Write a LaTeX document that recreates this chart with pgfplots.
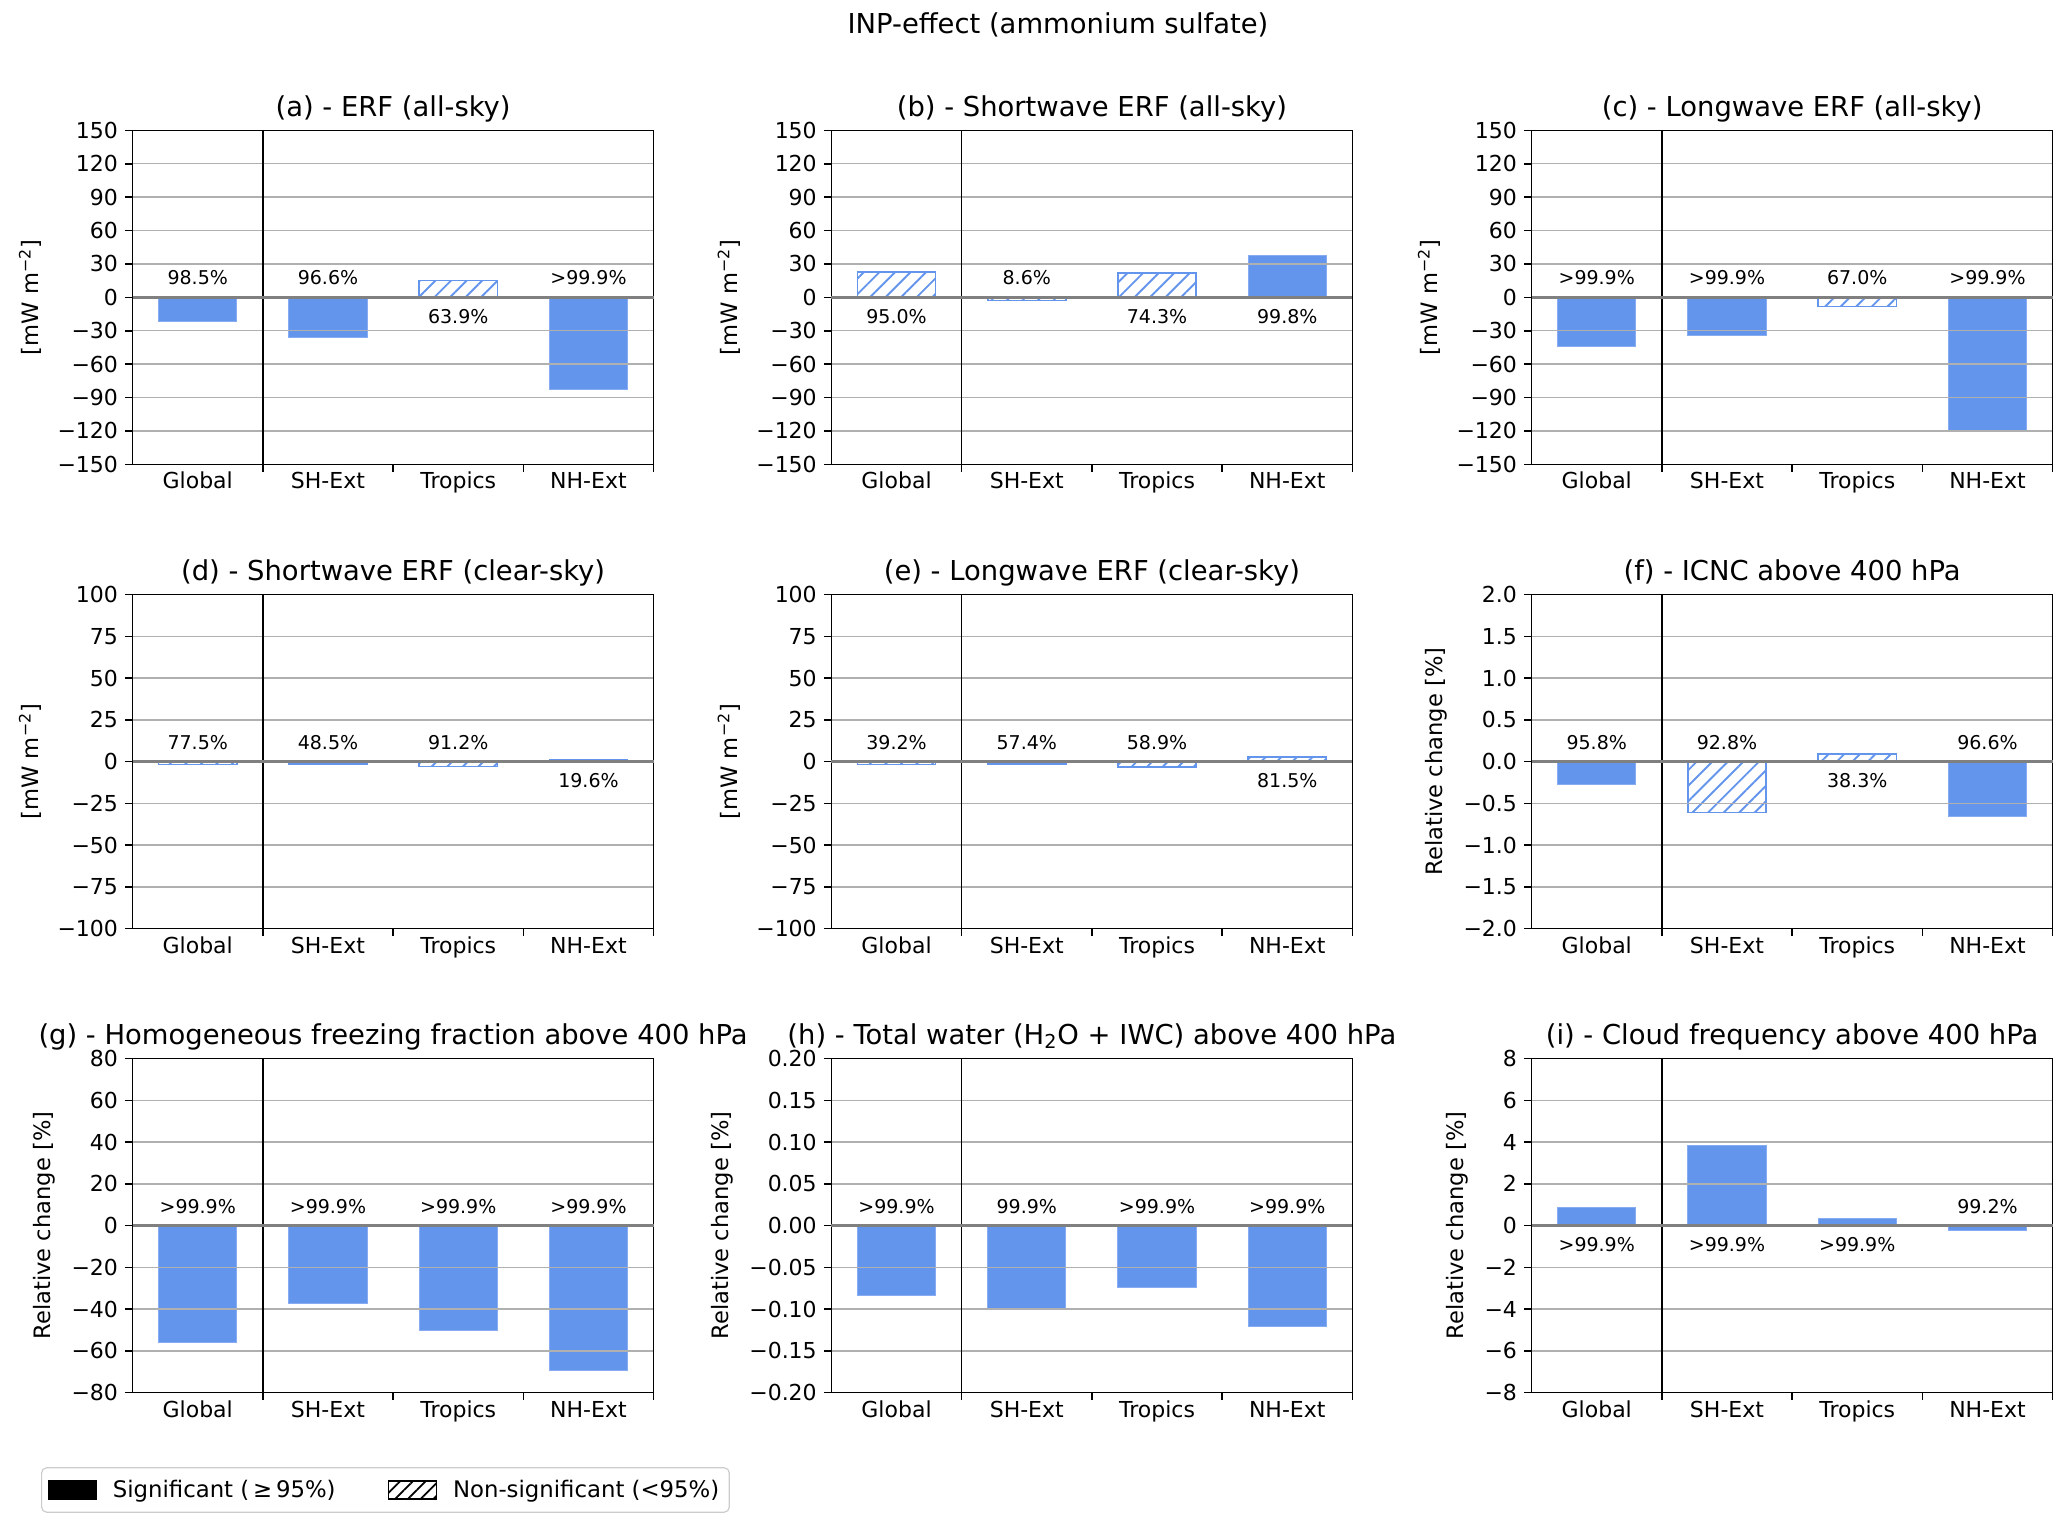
\documentclass[border=0pt]{standalone}
\usepackage{fontspec}
\setmainfont{DejaVu Sans}
\usepackage{pgfplots}
\pgfplotsset{compat=1.18}
\usetikzlibrary{patterns.meta}

\definecolor{cblue}{RGB}{100,149,237}
\definecolor{cedge}{RGB}{135,172,241}
\definecolor{gridgray}{RGB}{176,176,176}
\definecolor{zerogray}{RGB}{128,128,128}
\definecolor{legframe}{RGB}{204,204,204}

\newcommand{\titlefont}{\fontsize{13.7}{16}\selectfont}
\newcommand{\tickfont}{\fontsize{11}{13}\selectfont}
\newcommand{\labelfont}{\fontsize{11.3}{13}\selectfont}
\newcommand{\annfont}{\fontsize{9.5}{11}\selectfont}
\newcommand{\legfont}{\fontsize{11.4}{13}\selectfont}

\pgfplotsset{
  panel/.style={
    axis on top,
    scale only axis, width=260.5pt, height=167pt,
    anchor=north west,
    xmin=-0.5, xmax=3.5,
    xtick={0,1,2,3},
    xticklabels={Global,SH-Ext,Tropics,NH-Ext},
    minor xtick={0.5,1.5,2.5,3.5},
    tick align=outside, tick pos=left,
    major tick length=3.8pt, minor tick length=3.8pt,
    tick style={black, line width=0.8pt},
    major x tick style={draw=none},
    axis line style={line width=0.85pt},
    ymajorgrids, major grid style={gridgray, line width=0.7pt},
    % zero line and region separator as extra ticks with their own grid
    extra y ticks={0},
    extra y tick style={major grid style={zerogray, line width=1.4pt}},
    extra x ticks={0.5}, extra x tick labels={},
    extra x tick style={grid=major, major grid style={black, line width=0.75pt}},
    ybar, bar width=0.6, bar shift=0pt,
    ticklabel style={font=\tickfont},
    xticklabel style={anchor=base, yshift=-8.5pt},
    title style={at={(0.5,1)}, anchor=base, yshift=1.1pt, font=\titlefont},
    ylabel style={font=\labelfont}, ylabel shift=-6.5pt,
  },
  sig/.style={fill=cblue, draw=cedge, line width=0.5pt},
  nonsig/.style={draw=cblue, line width=0.8pt,
    pattern={Lines[angle=45,distance=5.5pt,line width=0.95pt]}, pattern color=cblue},
  erf/.style={ymin=-150, ymax=150, ytick={-150,-120,-90,-60,-30,30,60,90,120,150},
    yticklabels={−150,−120,−90,−60,−30,30,60,90,120,150}, extra y tick labels={0},
    ylabel={[mW m\textsuperscript{−2}]}},
  clr/.style={ymin=-100, ymax=100, ytick={-100,-75,-50,-25,25,50,75,100},
    yticklabels={−100,−75,−50,−25,25,50,75,100}, extra y tick labels={0},
    ylabel={[mW m\textsuperscript{−2}]}},
}

\newcommand{\up}[2]{\node[font=\annfont, yshift=9.7pt] at (axis cs:#1,0) {#2};}
\newcommand{\dn}[2]{\node[font=\annfont, yshift=-9.7pt] at (axis cs:#1,0) {#2};}

\begin{document}
\begin{tikzpicture}
\useasboundingbox (0,0) rectangle (1033.5pt,762.5pt);

\node[font=\titlefont] at (529pt,750.2pt) {INP-effect (ammonium sulfate)};

% (a)
\begin{axis}[panel, erf, at={(66.3pt,697.3pt)}, title={(a) - ERF (all-sky)}]
\addplot[sig] coordinates {(0,-22) (1,-36) (3,-83)};
\addplot[nonsig] coordinates {(2,15)};
\up{0}{98.5\%} \up{1}{96.6\%} \dn{2}{63.9\%} \up{3}{>99.9\%}
\end{axis}

% (b)
\begin{axis}[panel, erf, at={(415.7pt,697.3pt)}, title={(b) - Shortwave ERF (all-sky)}]
\addplot[sig] coordinates {(3,37.8)};
\addplot[nonsig] coordinates {(0,22.7) (1,-2.7) (2,22)};
\dn{0}{95.0\%} \up{1}{8.6\%} \dn{2}{74.3\%} \dn{3}{99.8\%}
\end{axis}

% (c)
\begin{axis}[panel, erf, at={(765.8pt,697.3pt)}, title={(c) - Longwave ERF (all-sky)}]
\addplot[sig] coordinates {(0,-44.4) (1,-34.1) (3,-120.2)};
\addplot[nonsig] coordinates {(2,-8.2)};
\up{0}{>99.9\%} \up{1}{>99.9\%} \up{2}{67.0\%} \up{3}{>99.9\%}
\end{axis}

% (d)
\begin{axis}[panel, clr, at={(66.3pt,465.2pt)}, title={(d) - Shortwave ERF (clear-sky)}]
\addplot[nonsig] coordinates {(0,-1.8) (1,-1.4) (2,-3.0) (3,0.8)};
\up{0}{77.5\%} \up{1}{48.5\%} \up{2}{91.2\%} \dn{3}{19.6\%}
\end{axis}

% (e)
\begin{axis}[panel, clr, at={(415.7pt,465.2pt)}, title={(e) - Longwave ERF (clear-sky)}]
\addplot[nonsig] coordinates {(0,-1.8) (1,-1.6) (2,-3.4) (3,2.8)};
\up{0}{39.2\%} \up{1}{57.4\%} \up{2}{58.9\%} \dn{3}{81.5\%}
\end{axis}

% (f)
\begin{axis}[panel, at={(765.8pt,465.2pt)}, title={(f) - ICNC above 400 hPa},
  ymin=-2, ymax=2, ytick={-2,-1.5,-1,-0.5,0.5,1,1.5,2},
  yticklabels={−2.0,−1.5,−1.0,−0.5,0.5,1.0,1.5,2.0}, extra y tick labels={0.0},
  ylabel={Relative change [\%]}]
\addplot[sig] coordinates {(0,-0.27) (3,-0.66)};
\addplot[nonsig] coordinates {(1,-0.61) (2,0.088)};
\up{0}{95.8\%} \up{1}{92.8\%} \dn{2}{38.3\%} \up{3}{96.6\%}
\end{axis}

% (g)
\begin{axis}[panel, at={(66.3pt,233.2pt)}, title={(g) - Homogeneous freezing fraction above 400 hPa},
  ymin=-80, ymax=80, ytick={-80,-60,-40,-20,20,40,60,80},
  yticklabels={−80,−60,−40,−20,20,40,60,80}, extra y tick labels={0},
  ylabel={Relative change [\%]}]
\addplot[sig] coordinates {(0,-56.2) (1,-37.4) (2,-50.3) (3,-69.6)};
\up{0}{>99.9\%} \up{1}{>99.9\%} \up{2}{>99.9\%} \up{3}{>99.9\%}
\end{axis}

% (h)
\begin{axis}[panel, at={(415.7pt,233.2pt)}, title={(h) - Total water (H\textsubscript{2}O + IWC) above 400 hPa},
  ymin=-0.2, ymax=0.2, ytick={-0.2,-0.15,-0.1,-0.05,0.05,0.1,0.15,0.2},
  yticklabels={−0.20,−0.15,−0.10,−0.05,0.05,0.10,0.15,0.20}, extra y tick labels={0.00},
  ylabel={Relative change [\%]}]
\addplot[sig] coordinates {(0,-0.0835) (1,-0.0988) (2,-0.0739) (3,-0.1209)};
\up{0}{>99.9\%} \up{1}{99.9\%} \up{2}{>99.9\%} \up{3}{>99.9\%}
\end{axis}

% (i)
\begin{axis}[panel, at={(765.8pt,233.2pt)}, title={(i) - Cloud frequency above 400 hPa},
  ymin=-8, ymax=8, ytick={-8,-6,-4,-2,2,4,6,8},
  yticklabels={−8,−6,−4,−2,2,4,6,8}, extra y tick labels={0},
  ylabel={Relative change [\%]}]
\addplot[sig] coordinates {(0,0.87) (1,3.84) (2,0.32) (3,-0.22)};
\dn{0}{>99.9\%} \dn{1}{>99.9\%} \dn{2}{>99.9\%} \up{3}{99.2\%}
\end{axis}

% legend
\begin{axis}[hide axis, scale only axis, width=1pt, height=1pt,
  at={(20.5pt,17.5pt)}, anchor=south west, xmin=0, xmax=1, ymin=0, ymax=1,
  legend columns=2, legend cell align=left,
  legend style={at={(0,0)}, anchor=west, draw=legframe, rounded corners=2.5pt,
    line width=0.6pt, font=\legfont, inner xsep=3pt, inner ysep=4pt,
    /tikz/every even column/.append style={column sep=24pt}},
  legend image code/.code={\draw[#1, sharp corners, line width=0.6pt] (0pt,-4.5pt) rectangle (24pt,4.5pt);
    \path (30pt,0pt);},
]
\addlegendimage{fill=black, draw=black}
\addlegendentry{Significant (\,≥\,95\%)}
\addlegendimage{fill=white, draw=black, pattern={Lines[angle=45,distance=4.5pt,line width=0.9pt]}, pattern color=black}
\addlegendentry{Non-significant (<95\%)}
\end{axis}
\end{tikzpicture}
\end{document}
